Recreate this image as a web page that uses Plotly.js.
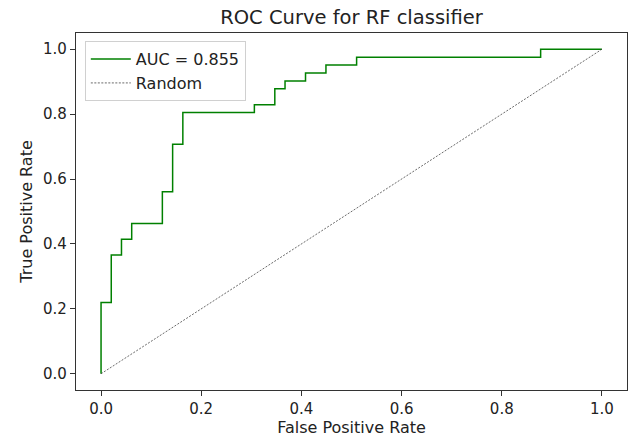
<!DOCTYPE html>
<html>
<head>
<meta charset="utf-8">
<script src="https://cdn.plot.ly/plotly-3.0.1.min.js"></script>
<style>html,body{margin:0;padding:0;background:#fff;}#chart{width:629px;height:444px;}</style>
</head>
<body>
<div id="chart"></div>
<script>
// ROC curve corner points (FPR, TPR)
const fpr = [0.0, 0.0, 0.0204, 0.0204, 0.0408, 0.0408, 0.0612, 0.0612, 0.1224, 0.1224, 0.1429, 0.1429, 0.1633, 0.1633, 0.3061, 0.3061, 0.3469, 0.3469, 0.3673, 0.3673, 0.4082, 0.4082, 0.4490, 0.4490, 0.5102, 0.5102, 0.8776, 0.8776, 1.0];
const tpr = [0.0, 0.2195, 0.2195, 0.3659, 0.3659, 0.4146, 0.4146, 0.4634, 0.4634, 0.5610, 0.5610, 0.7073, 0.7073, 0.8049, 0.8049, 0.8293, 0.8293, 0.8780, 0.8780, 0.9024, 0.9024, 0.9268, 0.9268, 0.9512, 0.9512, 0.9756, 0.9756, 1.0, 1.0];
const randX = [0, 1];
const randY = [0, 1];
const aucLabel = 'AUC = 0.855';
const randomLabel = 'Random';
const xTicks = [0.0, 0.2, 0.4, 0.6, 0.8, 1.0];
const yTicks = [0.0, 0.2, 0.4, 0.6, 0.8, 1.0];

const font = 'DejaVu Sans, sans-serif';
const traces = [
  {x: fpr, y: tpr, mode: 'lines', name: aucLabel,
   line: {color: '#008000', width: 1.5}},
  {x: randX, y: randY, mode: 'lines', name: randomLabel,
   line: {color: '#444444', width: 0.8, dash: '2px,1.5px'}}
];
const axisCommon = {
  range: [-0.05, 1.05], showgrid: false, zeroline: false,
  showline: true, mirror: true, linecolor: '#333', linewidth: 1.2,
  ticks: 'outside', ticklen: 5, tickwidth: 1, tickcolor: '#333',
  tickfont: {family: font, size: 15, color: '#222'},
  tickformat: '.1f'
};
const layout = {
  width: 629, height: 444,
  margin: {l: 76, r: 2, t: 33, b: 54},
  paper_bgcolor: '#fff', plot_bgcolor: '#fff',
  font: {family: font, color: '#222'},
  title: {text: 'ROC Curve for RF classifier', font: {family: font, size: 19.5, color: '#222'},
          x: 0.5, xref: 'paper', y: 1 - 17 / 444, yref: 'container', yanchor: 'middle'},
  xaxis: Object.assign({}, axisCommon, {tickvals: xTicks,
    title: {text: 'False Positive Rate', font: {family: font, size: 16, color: '#222'}, standoff: 4}}),
  yaxis: Object.assign({}, axisCommon, {tickvals: yTicks,
    title: {text: 'True Positive Rate', font: {family: font, size: 16, color: '#222'}, standoff: 6}}),
  showlegend: true,
  legend: {x: 0.016, y: 0.977, xanchor: 'left', yanchor: 'top',
    bgcolor: 'rgba(255,255,255,0.8)', bordercolor: '#d0d0d0', borderwidth: 1,
    font: {family: font, size: 16, color: '#222'},
    itemwidth: 40}
};
Plotly.newPlot('chart', traces, layout, {displayModeBar: false, staticPlot: true});
</script>
</body>
</html>
